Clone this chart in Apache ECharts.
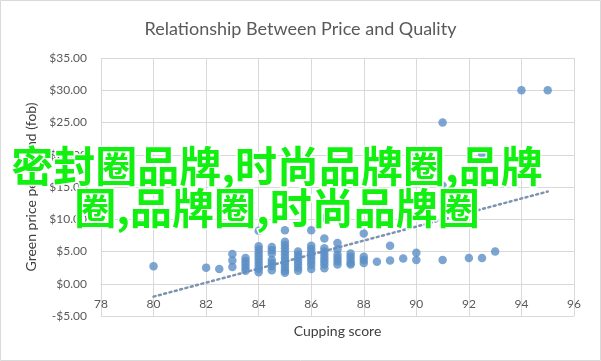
<!DOCTYPE html>
<html>
<head>
<meta charset="utf-8">
<script src="https://cdn.jsdelivr.net/npm/echarts@6/dist/echarts.min.js"></script>
<style>
  html, body { margin: 0; padding: 0; background: #fff; }
  #chart { width: 601px; height: 361px; }
</style>
</head>
<body>
<div id="chart"></div>
<script>
// cupping score columns and the prices plotted in each column
const scoreColumns = [80, 82, 82.5, 83, 83.5, 84, 84.5, 85, 85.5, 86, 86.5, 87, 87.5, 88, 88.5, 89, 89.5, 90, 91, 92, 92.5, 93, 94, 95];
const pricesByColumn = [
  [2.7],
  [2.5],
  [2.3],
  [4.6, 3.6, 2.6],
  [4.0, 3.5, 3.0, 2.5, 2.0],
  [8.2, 5.8, 5.3, 4.8, 4.3, 3.8, 3.3, 2.8, 2.3, 1.8],
  [5.7, 5.2, 4.7, 3.7, 3.2, 2.7, 2.1],
  [8.3, 6.5, 6.0, 5.5, 5.0, 4.5, 4.0, 3.5, 3.0, 2.5, 2.0, 1.7],
  [20.3, 5.0, 4.5, 4.0, 3.5, 3.0, 2.5, 2.0],
  [8.3, 5.9, 5.4, 4.9, 4.4, 3.9, 3.4, 2.9, 2.3],
  [10.2, 7.0, 5.5, 5.0, 4.5, 4.0, 3.5, 3.0, 2.4],
  [10.2, 6.3, 5.3, 4.5, 4.0, 3.5, 3.0],
  [4.7, 4.2, 3.7, 3.2, 3.0],
  [7.8, 4.2, 3.7, 3.2],
  [3.4],
  [5.9, 3.6],
  [3.9],
  [20.2, 4.8, 3.7],
  [25.0, 15.2, 3.7],
  [4.0],
  [20.2, 4.0],
  [5.0],
  [30.0],
  [30.0]
];

// linear trendline ends
const trendScores = [80, 95];
const trendPrices = [-2.0, 14.3];

const xRange = [78, 96];
const yRange = [-5, 35];

const overlayLines = ['密封圈品牌,时尚品牌圈,品牌', '圈,品牌圈,时尚品牌圈'];

const points = [];
scoreColumns.forEach((s, i) => {
  pricesByColumn[i].forEach(p => points.push([s, p]));
});
const trend = trendScores.map((s, i) => [s, trendPrices[i]]);

const textColor = '#595959';
const gridColor = '#d9d9d9';
const font = 'Lato, "Open Sans", sans-serif';

const chart = echarts.init(document.getElementById('chart'));

chart.setOption({
  backgroundColor: '#fff',
  animation: false,
  title: {
    text: 'Relationship Between Price and Quality',
    left: 'center',
    top: 15,
    textStyle: { fontFamily: font, fontSize: 18, fontWeight: 'normal', color: textColor }
  },
  grid: { left: 101, right: 27, top: 58, bottom: 45, outerBoundsMode: 'none', containLabel: false },
  xAxis: {
    type: 'value',
    min: xRange[0],
    max: xRange[1],
    interval: 2,
    // horizontal axis crosses at $0.00 (one band of 5 above the bottom)
    offset: -32,
    name: 'Cupping score',
    nameLocation: 'middle',
    nameGap: 40,
    nameTextStyle: { fontFamily: font, fontSize: 14, color: '#404040' },
    axisLine: { onZero: false, lineStyle: { color: gridColor } },
    axisTick: { show: false },
    axisLabel: { fontFamily: font, fontSize: 12, color: textColor, margin: 14 },
    splitLine: { show: true, lineStyle: { color: gridColor } }
  },
  yAxis: {
    type: 'value',
    min: yRange[0],
    max: yRange[1],
    interval: 5,
    name: 'Green price per pound (fob)',
    nameLocation: 'middle',
    nameGap: 60,
    nameTextStyle: { fontFamily: font, fontSize: 14, color: '#404040' },
    axisLine: { show: false },
    axisTick: { show: false },
    axisLabel: {
      fontFamily: font, fontSize: 12, color: textColor, margin: 14,
      formatter: v => (v < 0 ? '-$' : '$') + Math.abs(v).toFixed(2)
    },
    splitLine: { show: true, lineStyle: { color: gridColor } }
  },
  series: [
    {
      type: 'scatter',
      data: points,
      symbolSize: 8.5,
      itemStyle: { color: '#5b8ec6' },
      z: 3
    },
    {
      type: 'line',
      data: trend,
      showSymbol: false,
      lineStyle: { type: [2, 3.5], width: 2.5, color: '#7d93b0', cap: 'round' },
      z: 2
    }
  ],
  graphic: [
    {
      type: 'rect',
      shape: { x: 0.5, y: 0.5, width: 600, height: 360 },
      style: { fill: null, stroke: gridColor, lineWidth: 1 },
      silent: true
    },
    {
      type: 'text',
      x: 277,
      y: 166,
      z: 100,
      style: {
        text: overlayLines[0],
        fontFamily: '"Noto Sans CJK SC"',
        fontSize: 42,
        fontWeight: 'bold',
        fill: '#12f012',
        stroke: '#ffffff',
        lineWidth: 3,
        align: 'center',
        verticalAlign: 'middle'
      }
    },
    {
      type: 'text',
      x: 277,
      y: 208,
      z: 100,
      style: {
        text: overlayLines[1],
        fontFamily: '"Noto Sans CJK SC"',
        fontSize: 42,
        fontWeight: 'bold',
        fill: '#12f012',
        stroke: '#ffffff',
        lineWidth: 3,
        align: 'center',
        verticalAlign: 'middle'
      }
    }
  ]
});
</script>
</body>
</html>
